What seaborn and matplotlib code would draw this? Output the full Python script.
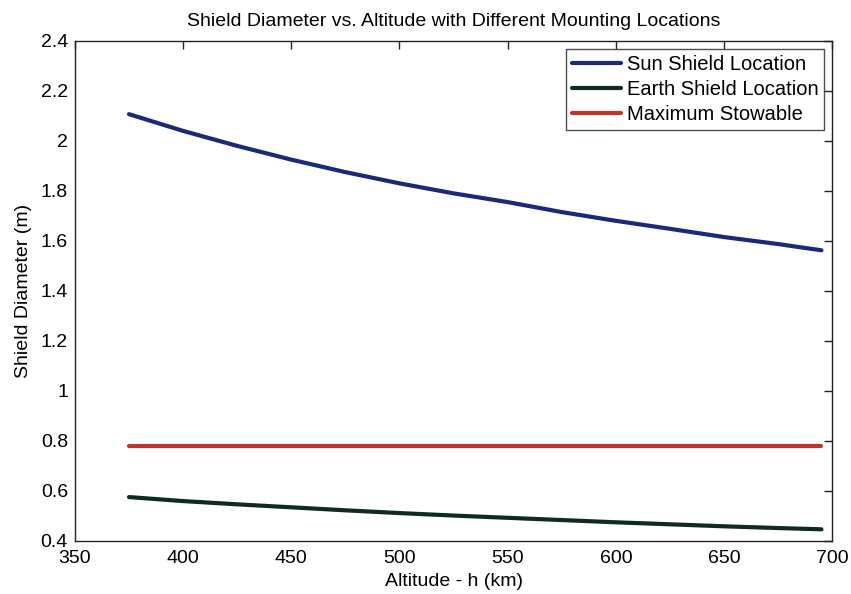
import matplotlib
matplotlib.use("Agg")
import matplotlib.pyplot as plt
from matplotlib.ticker import FuncFormatter
import seaborn as sns
import pandas as pd

# values
altitude = [375, 400, 425, 450, 475, 500, 525, 550, 575, 600, 625, 650, 675, 695]
sun_shield = [2.107, 2.04, 1.98, 1.925, 1.875, 1.83, 1.79, 1.755, 1.715, 1.68,
              1.648, 1.615, 1.587, 1.562]
earth_shield = [0.574, 0.558, 0.545, 0.533, 0.521, 0.510, 0.500, 0.491, 0.482,
                0.473, 0.465, 0.457, 0.450, 0.445]
max_stowable = [0.78] * len(altitude)

labels = ["Sun Shield Location", "Earth Shield Location", "Maximum Stowable"]
colors = ["#1b2a78", "#0f2a1e", "#c0342c"]

sns.set_style("white")
plt.rcParams['font.family'] = ['Liberation Sans', 'DejaVu Sans']
plt.rcParams['text.color'] = 'black'
plt.rcParams['axes.labelcolor'] = 'black'
plt.rcParams['xtick.color'] = 'black'
plt.rcParams['ytick.color'] = 'black'

df = pd.DataFrame({
    "h": altitude * 3,
    "d": sun_shield + earth_shield + max_stowable,
    "series": [labels[0]] * len(altitude) + [labels[1]] * len(altitude)
              + [labels[2]] * len(altitude),
})

fig = plt.figure(figsize=(8.51, 5.94), dpi=100)
ax = fig.add_axes([0.088, 0.09, 0.89, 0.841])

sns.lineplot(data=df, x="h", y="d", hue="series", palette=colors,
             hue_order=labels, linewidth=3, ax=ax)

ax.set_xlim(350, 700)
ax.set_ylim(0.4, 2.4)
ax.set_xticks(range(350, 701, 50))
ax.set_yticks([0.4 + 0.2 * i for i in range(11)])
ax.yaxis.set_major_formatter(FuncFormatter(lambda v, p: f"{v:g}"))
ax.tick_params(direction="in", top=True, right=True, length=6, width=1,
               labelsize=14, color="#222222")
ax.tick_params(axis="x", pad=7)
ax.tick_params(axis="y", pad=5)
for s in ax.spines.values():
    s.set_visible(True)
    s.set_color("#222222")
    s.set_linewidth(1)

ax.set_xlabel("Altitude - h (km)", fontsize=14, labelpad=4)
ax.set_ylabel("Shield Diameter (m)", fontsize=14, labelpad=6)
ax.set_title("Shield Diameter vs. Altitude with Different Mounting Locations",
             fontsize=14, pad=11)

leg = ax.legend(loc="upper right", fontsize=14.5, frameon=True, fancybox=False,
                edgecolor="#222222", handlelength=2.4, handletextpad=0.3,
                borderpad=0.3, labelspacing=0.3, borderaxespad=0.4)
leg.get_frame().set_linewidth(1)

fig.savefig("out.png", dpi=100)
